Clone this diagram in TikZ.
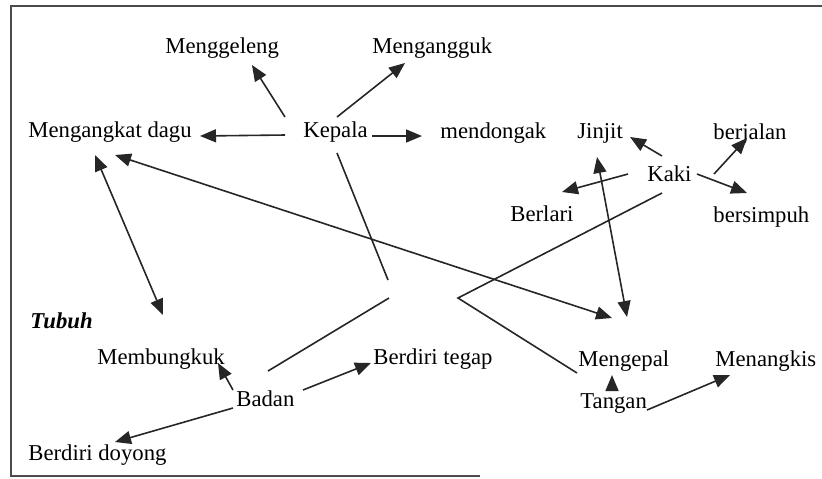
\documentclass[tikz,border=0pt]{standalone}
\usepackage{fontspec}
\setmainfont{Liberation Serif}
\usetikzlibrary{arrows.meta}
\begin{document}
\begin{tikzpicture}[x=0.5pt,y=-0.5pt,
  lbl/.style={anchor=base west,inner sep=0pt,font=\fontsize{11.35}{13}\selectfont},
  link/.style={line width=0.8pt,draw=black!85},
  tip/.style={},
  arr/.style={link,-{Triangle[length=8pt,width=6.5pt]}},
  darr/.style={link,{Triangle[length=8pt,width=6.5pt]}-{Triangle[length=8pt,width=6.5pt]}},
  frame/.style={line width=0.9pt,draw=black!70}]
\useasboundingbox (0,0) rectangle (822,478);

% open frame: top, left and a short bottom edge
\draw[frame] (822,6) -- (11,6) -- (11,476) -- (480,476);

% labels
\node[lbl] (gel) at (165,53) {Menggeleng};
\node[lbl] (ang) at (372,53) {Mengangguk};
\node[lbl] (dag) at (28,137) {Mengangkat dagu};
\node[lbl] (kep) at (303,137) {Kepala};
\node[lbl] (don) at (440,138) {mendongak};
\node[lbl] (jin) at (577,138) {Jinjit};
\node[lbl] (jal) at (713,139) {berjalan};
\node[lbl] (kak) at (647,181) {Kaki};
\node[lbl] (lar) at (510,221) {Berlari};
\node[lbl] (sim) at (713,222) {bersimpuh};
\node[lbl,font=\fontsize{11.35}{13}\selectfont\bfseries\itshape] (tub) at (30,328) {Tubuh};
\node[lbl] (bun) at (97,364) {Membungkuk};
\node[lbl] (teg) at (373,364) {Berdiri tegap};
\node[lbl] (kep2) at (578,366) {Mengepal};
\node[lbl] (nks) at (715,366) {Menangkis};
\node[lbl] (tan) at (580,408) {Tangan};
\node[lbl] (bad) at (236,406) {Badan};
\node[lbl] (doy) at (28,460) {Berdiri doyong};

% free ends of the plain lines
\coordinate (kepEnd) at (388,280);
\coordinate (badEnd) at (389,298);
\coordinate (bend) at (458,298);

% Kepala
\draw[arr] ([shift={(-18,-20)}]kep.base west) -- ([shift={(87,12)}]gel.base west);
\draw[arr] ([shift={(34,-20)}]kep.base west) -- ([shift={(33,10)}]ang.base west);
\draw[arr] ([shift={(-18,-2)}]kep.base west) -- ([shift={(172,-1)}]dag.base west);
\draw[arr] ([shift={(69,-1)}]kep.base west) -- ([shift={(-18,-2)}]don.base west);
\draw[link] ([shift={(34,16)}]kep.base west) -- (kepEnd);

% cross links
\draw[darr] ([shift={(67,18)}]dag.base west) -- ([shift={(66,-49)}]bun.base west);
\draw[darr] ([shift={(87,18)}]dag.base west) -- ([shift={(34,-48)}]kep2.base west);
\draw[darr] ([shift={(20,19)}]jin.base west) -- ([shift={(49,-49)}]kep2.base west);

% Kaki
\draw[arr] ([shift={(15,-25)}]kak.base west) -- ([shift={(53,-1)}]jin.base west);
\draw[arr] ([shift={(-19,-7)}]kak.base west) -- ([shift={(52,-29)}]lar.base west);
\draw[arr] ([shift={(67,-7)}]kak.base west) -- ([shift={(34,-1)}]jal.base west);
\draw[arr] ([shift={(50,-7)}]kak.base west) -- ([shift={(34,-29)}]sim.base west);

% Tangan
\draw[link] ([shift={(-3,-35)}]tan.base west) -- (bend) -- ([shift={(15,12)}]kak.base west);
\draw[arr] ([shift={(32,-18)}]tan.base west) -- ([shift={(34,9)}]kep2.base west);
\draw[arr] ([shift={(67,2)}]tan.base west) -- ([shift={(15,9)}]nks.base west);

% Badan
\draw[link] ([shift={(32,-35)}]bad.base west) -- (badEnd);
\draw[arr] ([shift={(-3,-16)}]bad.base west) -- ([shift={(121,-1)}]bun.base west);
\draw[arr] ([shift={(67,-16)}]bad.base west) -- ([shift={(-2,-1)}]teg.base west);
\draw[arr] ([shift={(-3,2)}]bad.base west) -- ([shift={(87,-18)}]doy.base west);
\end{tikzpicture}
\end{document}
